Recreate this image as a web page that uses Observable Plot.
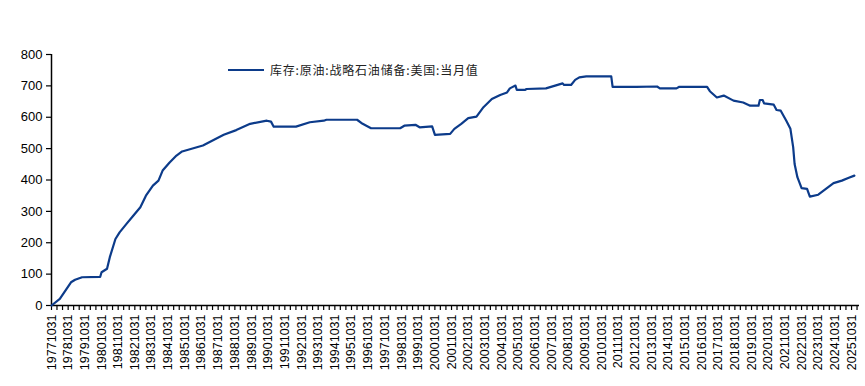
<!DOCTYPE html>
<html>
<head>
<meta charset="utf-8">
<script src="https://cdn.jsdelivr.net/npm/d3@7"></script>
<script src="https://cdn.jsdelivr.net/npm/@observablehq/plot@0.6"></script>
<style>
  html, body { margin: 0; padding: 0; background: #fff; }
  #wrap { position: relative; width: 865px; height: 386px; }
  #legend { position: absolute; left: 228px; top: 61px; display: flex; align-items: center;
    font-family: "Noto Sans CJK SC", sans-serif; font-size: 12px; letter-spacing: 0.8px; color: #222; white-space: nowrap; }
  #legend .sw { width: 36px; height: 2px; background: #0c3b8a; margin-right: 6px; }
</style>
</head>
<body>
<div id="wrap"><div id="legend"><span class="sw"></span><span id="legtext"></span></div></div>
<script>
const seriesName = "库存:原油:战略石油储备:美国:当月值";
const months = [
  "1977-11","1978-05","1979-01","1979-04","1979-09","1980-10","1980-11","1981-03","1981-05","1981-09",
  "1981-12","1982-05","1982-10","1983-03","1983-07","1983-12","1984-04","1984-07","1984-12","1985-05",
  "1985-09","1986-12","1988-03","1988-12","1989-10","1990-10","1991-01","1991-03","1992-07","1993-05",
  "1994-03","1994-05","1996-03","1996-07","1997-01","1998-10","1999-01","1999-09","1999-12","2000-09",
  "2000-11","2001-10","2002-01","2002-06","2002-11","2003-05","2003-10","2004-04","2004-10","2005-03",
  "2005-05","2005-09","2005-10","2006-04","2006-05","2007-07","2008-07","2008-08","2009-01","2009-04",
  "2009-07","2009-12","2011-06","2011-07","2012-12","2014-03","2014-05","2015-05","2015-07","2017-03",
  "2017-05","2017-10","2018-03","2018-10","2019-05","2019-10","2020-04","2020-05","2020-07","2020-08",
  "2021-03","2021-05","2021-08","2021-12","2022-03","2022-05","2022-06","2022-08","2022-11","2023-03",
  "2023-05","2023-11","2024-10","2025-04","2025-09","2026-01"
];
const values = [
  0,21,74,82,90,91,106,117,154,212,
  233,260,287,313,350,382,398,430,456,478,
  491,510,544,559,579,589,586,570,570,584,
  589,592,592,579,565,565,573,576,568,571,
  544,547,563,579,597,602,632,658,671,679,
  692,701,687,687,690,692,708,703,703,719,
  727,730,730,697,697,698,692,692,697,697,
  683,663,669,653,647,637,637,655,655,644,
  640,623,621,589,563,504,451,409,374,372,
  347,353,390,398,407,414
];
const yTicks = [0,100,200,300,400,500,600,700,800];
const firstYear = 1977, lastYear = 2026;

document.getElementById("legtext").textContent = seriesName;

const parse = d3.utcParse("%Y-%m");
const data = months.map((m, i) => ({date: parse(m), value: values[i]}));

const x0 = new Date(Date.UTC(1977, 9, 31));
const x1 = new Date(Date.UTC(2026, 3, 23));
// month-end ticks every 4 months, labelled each 10-31
const xTicks = [];
for (let y = firstYear; y <= lastYear; y++) {
  for (const m of [2, 6, 10]) {
    const d = new Date(Date.UTC(y, m, 0));
    if (d >= x0 && d <= x1) xTicks.push(d);
  }
}
const fmt = d3.utcFormat("%Y%m%d");

const chart = Plot.plot({
  width: 865,
  height: 386,
  marginLeft: 51,
  marginRight: 6,
  marginTop: 54,
  marginBottom: 81,
  style: {fontFamily: "'Liberation Sans', Arial, sans-serif", color: "#000", background: "transparent"},
  x: {type: "utc", domain: [x0, x1]},
  y: {domain: [0, 800]},
  marks: [
    Plot.axisY({ticks: yTicks, tickSize: 5, tickPadding: 4, fontSize: 13, label: null, stroke: "#000", strokeWidth: 1.2}),
    Plot.axisX({ticks: xTicks, tickSize: 5, tickPadding: 4, tickRotate: -90, fontSize: 12.5, label: null,
      stroke: "#000", strokeWidth: 1.2,
      tickFormat: d => d.getUTCMonth() === 9 ? fmt(d) : ""}),
    Plot.ruleX([x0], {stroke: "#000", strokeWidth: 1.5}),
    Plot.ruleY([0], {stroke: "#000", strokeWidth: 1.5}),
    Plot.lineY(data, {x: "date", y: "value", stroke: "#0c3b8a", strokeWidth: 2.2})
  ]
});
document.getElementById("wrap").prepend(chart);
chart.style.position = "absolute";
chart.style.left = "0";
chart.style.top = "0";
</script>
</body>
</html>
